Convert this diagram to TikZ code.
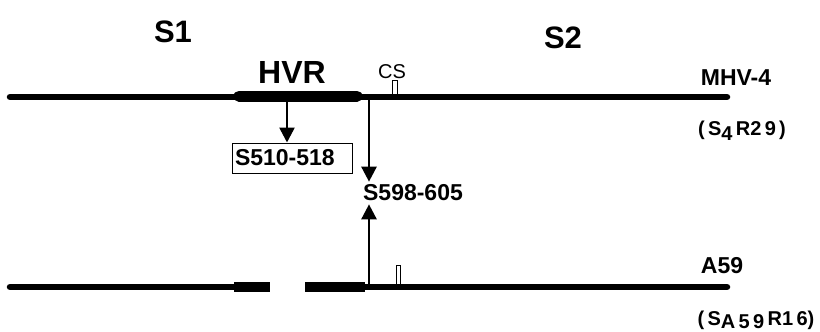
\documentclass[tikz,border=0pt]{standalone}
\usepackage{fontspec}
\setmainfont{Liberation Sans}
\usetikzlibrary{arrows.meta,positioning,calc}

\begin{document}
\begin{tikzpicture}[
  x=1pt, y=-1pt,
  every node/.style={align=center, inner sep=1pt},
  region/.style={font=\fontsize{31}{33}\selectfont\bfseries, anchor=base},
  strain/.style={font=\fontsize{23}{25}\selectfont\bfseries, anchor=base},
  clone/.style={font=\fontsize{20}{22}\selectfont\bfseries, anchor=base},
  peptide/.style={font=\fontsize{23}{25}\selectfont\bfseries},
  gene/.style={line width=6.5pt, line cap=round},
  hvbar/.style={line width=11pt},
  arr/.style={-{Triangle[length=15pt,width=15pt]}, line width=2.6pt},
  tickbox/.style={draw, fill=white, line width=1pt}
]
\useasboundingbox (0,0) rectangle (820,332);

% labels
\node[region] (s1) at (173,42) {S1};
\node[region] (s2) at (563,48) {S2};
\node[region, font=\fontsize{32}{34}\selectfont\bfseries] (hvr) at (292,83) {HVR};
\node[font=\fontsize{20}{22}\selectfont, anchor=base] (cs) at (392,78) {CS};
\node[strain] (mhv) at (736,85) {MHV-4};
\node[clone] (c4) at (742,135) {(\,S\raisebox{-5pt}{4}\,R2\,9\,)};
\node[strain] (a59) at (722,273) {A59};
\node[clone] (c59) at (756,325) {(\,S\raisebox{-3pt}{A\,5\,9}\,R1\,6)};

% MHV-4 gene
\draw[tickbox] (392,80) rectangle (397,94);
\draw[gene] (10,97) -- (727,97);
\draw[hvbar, line cap=round] (239,96) -- (357,96);

% A59 gene (deleted HVR)
\draw[tickbox] (396,265) rectangle (400,285);
\draw[gene] (10,287) -- (234,287);
\draw[line width=10pt] (234,287) -- (270,287);
\draw[line width=10pt] (305,287) -- (365,287);
\draw[gene] (365,287) -- (727,287);

% epitopes
\node[peptide, draw, line width=1pt, minimum width=120pt, minimum height=30pt,
      text width=114pt, align=left, inner xsep=3pt] (p1) at (292,158) {S510-518};
\node[peptide, inner ysep=3pt] (p2) at (413,193) {S598-605};

\coordinate (hv) at (287,102);
\coordinate (jt) at (369,97);
\coordinate (jb) at (369,287);
\draw[arr] (hv) -- (hv |- p1.north);
\draw[arr] (jt) -- (jt |- p2.north);
\draw[arr] (jb) -- (jb |- p2.south);
\end{tikzpicture}
\end{document}
